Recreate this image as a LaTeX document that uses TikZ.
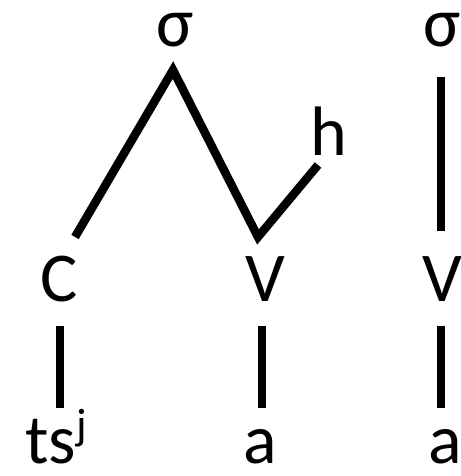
\documentclass[tikz,border=0pt]{standalone}
\usepackage{fontspec}
\setmainfont{Carlito}
\begin{document}
\begin{tikzpicture}[x=1pt,y=-1pt,
  lbl/.style={anchor=base,inner sep=0pt,font=\fontsize{70}{70}\selectfont,text depth=0pt},
  conn/.style={line width=8.5pt,line cap=butt,line join=miter}]
\useasboundingbox (0,0) rectangle (460,476);
% labels
\node[lbl,text height=34pt] (s1) at (175,47) {σ};
\node[lbl,text height=34pt] (s2) at (442,47) {σ};
\node[lbl,text height=49pt] (h) at (329,155) {h};
\node[lbl,text height=45pt] (c) at (59,301) {C};
\node[lbl,text height=45pt] (v1) at (265,301) {V};
\node[lbl,text height=45pt] (v2) at (442,301) {V};
\node[lbl,anchor=base west,text height=42pt] (ts) at (25,463) {ts\raisebox{24pt}{\fontsize{44}{44}\selectfont j}};
\node[lbl,text height=33pt] (a1) at (260,463) {a};
\node[lbl,text height=33pt] (a2) at (445,463) {a};
% connector ends
\coordinate (s1b) at (173,70);
\coordinate (ct) at (75,237);
\coordinate (v1t) at (258,237);
\coordinate (hb) at (318,165);
\coordinate (s2b) at (441,77);
\coordinate (v2t) at (441,231);
\coordinate (cb) at (60,326);
\coordinate (ca) at (60,408);
\coordinate (v1b) at (262,326);
\coordinate (v1a) at (262,408);
\coordinate (v2b) at (441,326);
\coordinate (v2a) at (441,408);
% connectors
\draw[conn] (ct) -- (s1b) -- (v1t) -- (hb);
\draw[conn] (s2b) -- (v2t);
\draw[conn] (cb) -- (ca);
\draw[conn] (v1b) -- (v1a);
\draw[conn] (v2b) -- (v2a);
\end{tikzpicture}
\end{document}
